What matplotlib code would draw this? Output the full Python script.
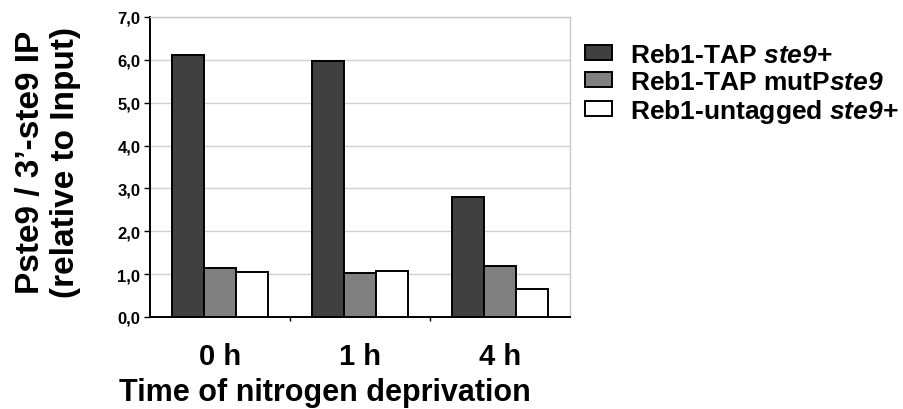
import matplotlib
matplotlib.use("Agg")
import matplotlib.pyplot as plt
import numpy as np
from matplotlib.ticker import FixedLocator, FuncFormatter

plt.rcParams['font.family'] = ['Liberation Sans', 'DejaVu Sans']
plt.rcParams['font.weight'] = 'bold'
plt.rcParams['mathtext.fontset'] = 'custom'
plt.rcParams['mathtext.rm'] = 'Liberation Sans:bold'
plt.rcParams['mathtext.bf'] = 'Liberation Sans:bold'
plt.rcParams['mathtext.it'] = 'Liberation Sans:italic:bold'
plt.rcParams['mathtext.bfit'] = 'Liberation Sans:italic:bold'

categories = ["0 h", "1 h", "4 h"]
series_names = [r"Reb1-TAP $\mathbfit{ste9}$+", r"Reb1-TAP mutP$\mathbfit{ste9}$", r"Reb1-untagged $\mathbfit{ste9}$+"]
reb1_tap = [6.11, 5.97, 2.80]
reb1_mut = [1.14, 1.03, 1.19]
reb1_untagged = [1.05, 1.07, 0.65]
colors = ["#404040", "#808080", "#ffffff"]
y_ticks = [0, 1, 2, 3, 4, 5, 6, 7]

fig = plt.figure(figsize=(9.04, 4.10), dpi=100)
ax = fig.add_axes([150/904, 1 - 318/410, 420/904, 300/410])

x = np.arange(len(categories))
w = 0.228
for i, (vals, c, name) in enumerate(zip([reb1_tap, reb1_mut, reb1_untagged], colors, series_names)):
    ax.bar(x + (i - 1) * w, vals, w, color=c, edgecolor="black", linewidth=1.4, label=name, zorder=3)

ax.set_xlim(-0.5, 2.5)
ax.set_ylim(0, 7)
ax.yaxis.set_major_locator(FixedLocator(y_ticks))
ax.yaxis.set_major_formatter(FuncFormatter(lambda v, p: f"{v:.1f}".replace(".", ",")))
ax.grid(axis="y", color="#d0d0d0", linewidth=1.0, zorder=0)

ax.set_xticks(x)
ax.set_xticklabels(categories, fontsize=21, fontweight="bold")
ax.tick_params(axis="x", length=0, pad=18)
ax.set_xticks([0.5, 1.5], minor=True)
ax.tick_params(axis="x", which="minor", length=3, width=1, direction="out")
ax.tick_params(axis="y", labelsize=12, length=4, width=1, direction="out", pad=3)
for lab in ax.get_yticklabels():
    lab.set_fontweight("bold")

for s in ["left", "bottom"]:
    ax.spines[s].set_color("black")
    ax.spines[s].set_linewidth(1.4)
for s in ["top", "right"]:
    ax.spines[s].set_color("#c8c8c8")
    ax.spines[s].set_linewidth(1.0)

ax.set_xlabel("Time of nitrogen deprivation", fontsize=22, fontweight="bold")
ax.xaxis.label.set_va("baseline")
ax.xaxis.set_label_coords((325 - 150) / 420, -(401 - 318) / 300)
ax.set_ylabel("Pste9 / 3\u2019-ste9 IP\n(relative to Input)", fontsize=24, fontweight="bold", linespacing=1.15)
ax.yaxis.label.set_va("center")
ax.yaxis.label.set_ha("center")
ax.yaxis.set_label_coords(-(150 - 48) / 420, (318 - 162) / 300)

leg = fig.legend(loc="upper left", bbox_to_anchor=(585/904, 1 - 44/410), frameon=False,
                 prop={"size": 19, "weight": "bold"}, handlelength=1.02, handleheight=0.53,
                 handletextpad=0.68, labelspacing=0.11, borderaxespad=0, borderpad=0)
for t in leg.get_texts():
    t.set_fontweight("bold")

fig.savefig("out.png", dpi=100)
